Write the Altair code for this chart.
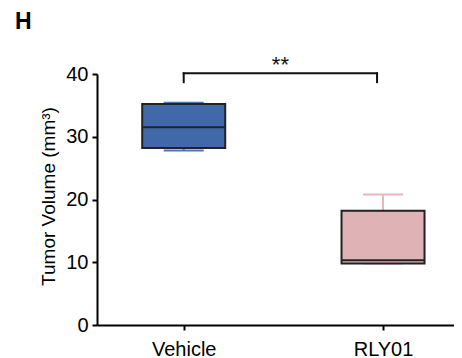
import altair as alt
import pandas as pd

# ---- data ----
groups = ["Vehicle", "RLY01"]
positions = [0, 1]
whisker_min = [27.8, 9.8]
q1 = [28.2, 9.8]
median = [31.5, 10.3]
q3 = [35.2, 18.2]
whisker_max = [35.4, 20.8]
fill_colors = ["#4169aa", "#dfb3b5"]
whisker_colors = ["#4a74bb", "#e6b8bc"]

bracket_x = [0, 0.97]
bracket_top = 40.1
bracket_leg_bottom = 38.7
sig_label = "**"
y_ticks = [0, 10, 20, 30, 40]

FONT = "Liberation Sans"

df = pd.DataFrame({
    "group": groups, "pos": positions, "lo": whisker_min, "q1": q1,
    "med": median, "q3": q3, "hi": whisker_max,
})

# bracket segments: top bar + two legs
bracket = pd.DataFrame({
    "x": [bracket_x[0], bracket_x[0], bracket_x[1]],
    "x2": [bracket_x[1], bracket_x[0], bracket_x[1]],
    "y": [bracket_top, bracket_leg_bottom, bracket_leg_bottom],
    "y2": [bracket_top, bracket_top, bracket_top],
})
sig = pd.DataFrame({"x": [sum(bracket_x) / 2], "y": [bracket_top], "t": [sig_label]})

label_expr = "[" + ",".join("'%s'" % g for g in groups) + "][datum.value]"

xscale = alt.Scale(domain=[-0.41, 1.331], nice=False, zero=False)
yscale = alt.Scale(domain=[0, 40], nice=False)

xaxis = alt.Axis(values=positions, labelExpr=label_expr, title=None, grid=False,
                 labelFontSize=20, labelFont=FONT, labelColor="#000", labelPadding=9,
                 tickSize=5, tickWidth=2, tickColor="#000",
                 domainWidth=2, domainColor="#000", labelAngle=0)
yaxis = alt.Axis(values=y_ticks, title="Tumor Volume (mm³)", grid=False,
                 labelFontSize=20, labelFont=FONT, labelColor="#000", labelPadding=4,
                 tickSize=5, tickWidth=2, tickColor="#000",
                 domainWidth=2, domainColor="#000",
                 titleFont=FONT, titleFontSize=19, titleFontWeight="normal", titleColor="#000",
                 titleX=-43, titleY=122, titleBaseline="alphabetic", titleAngle=270)

wcolor = alt.Color("group:N", scale=alt.Scale(domain=groups, range=whisker_colors), legend=None)
fcolor = alt.Fill("group:N", scale=alt.Scale(domain=groups, range=fill_colors), legend=None)

X = alt.X("pos:Q", scale=xscale, axis=xaxis)

base = alt.Chart(df)

stem = base.mark_rule(strokeWidth=2).encode(
    x=X, y=alt.Y("lo:Q", scale=yscale, axis=yaxis), y2="hi:Q", color=wcolor)
cap_hi = base.mark_rule(strokeWidth=2, xOffset=-20, x2Offset=20).encode(
    x=X, x2="pos:Q", y=alt.Y("hi:Q", scale=yscale, axis=yaxis), color=wcolor)
cap_lo = base.mark_rule(strokeWidth=2, xOffset=-20, x2Offset=20).encode(
    x=X, x2="pos:Q", y=alt.Y("lo:Q", scale=yscale, axis=yaxis), color=wcolor)
box = base.mark_bar(size=83, stroke="#222", strokeWidth=2).encode(
    x=X, y=alt.Y("q1:Q", scale=yscale, axis=yaxis), y2="q3:Q", fill=fcolor)
med = base.mark_rule(strokeWidth=2, color="#222", xOffset=-41, x2Offset=41).encode(
    x=X, x2="pos:Q", y=alt.Y("med:Q", scale=yscale, axis=yaxis))

br = alt.Chart(bracket).mark_rule(strokeWidth=2, color="#111", strokeCap="square").encode(
    x=alt.X("x:Q", scale=xscale, axis=xaxis), x2="x2:Q",
    y=alt.Y("y:Q", scale=yscale, axis=yaxis), y2="y2:Q")
st = alt.Chart(sig).mark_text(fontSize=22, font=FONT, baseline="alphabetic",
                              dy=-1, color="#111").encode(
    x=alt.X("x:Q", scale=xscale, axis=xaxis),
    y=alt.Y("y:Q", scale=yscale, axis=yaxis), text="t:N")

chart = alt.layer(stem, cap_hi, cap_lo, box, med, br, st).properties(
    width=357, height=251,
    background="white",
    title=alt.TitleParams("H", anchor="start", frame="group", dx=-82, fontSize=23,
                          font=FONT, fontWeight="bold", color="#000", offset=20),
    autosize=alt.AutoSizeParams(type="none"),
    padding={"left": 89, "top": 66, "right": 0, "bottom": 33},
).configure_view(stroke=None, strokeWidth=0).configure_axis(grid=False)

chart.save("out.html", embed_options={"renderer": "svg", "actions": False})
